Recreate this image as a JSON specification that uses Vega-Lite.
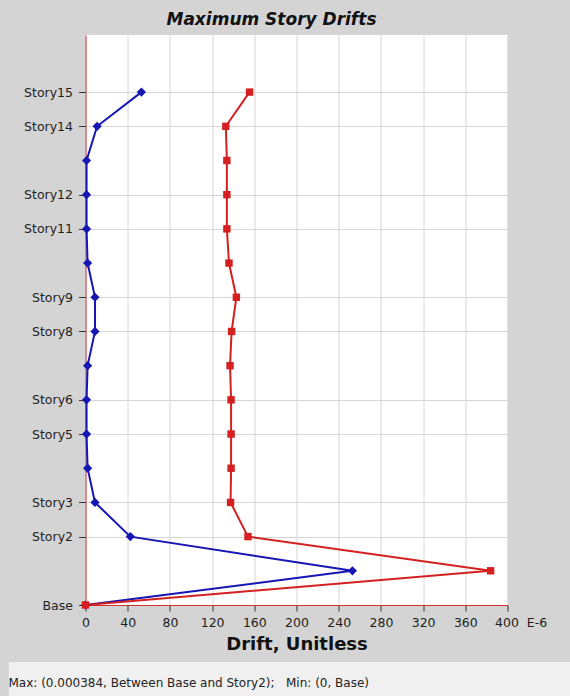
{
  "$schema": "https://vega.github.io/schema/vega-lite/v6.json",
  "background": "#d4d4d4",
  "padding": {"left": 7.5, "top": 11, "right": 0, "bottom": 0},
  "bounds": "flush",
  "center": true,
  "spacing": 57,
  "config": {
    "font": "DejaVu Sans",
    "view": {"stroke": null}
  },
  "vconcat": [
    {
      "title": {
        "text": "Maximum Story Drifts",
        "font": "DejaVu Sans",
        "fontSize": 17,
        "fontWeight": "bold",
        "fontStyle": "italic",
        "color": "#111111",
        "anchor": "middle",
        "frame": "group",
        "dx": -25,
        "offset": 6
      },
      "width": 422,
      "height": 570,
      "view": {"fill": "white", "stroke": null},
      "data": {
        "values": [
          {"series": "X", "story": 0, "drift": 0},
          {"series": "X", "story": 1, "drift": 253},
          {"series": "X", "story": 2, "drift": 42.5},
          {"series": "X", "story": 3, "drift": 9},
          {"series": "X", "story": 4, "drift": 2},
          {"series": "X", "story": 5, "drift": 1},
          {"series": "X", "story": 6, "drift": 1},
          {"series": "X", "story": 7, "drift": 2},
          {"series": "X", "story": 8, "drift": 9},
          {"series": "X", "story": 9, "drift": 9},
          {"series": "X", "story": 10, "drift": 2},
          {"series": "X", "story": 11, "drift": 1},
          {"series": "X", "story": 12, "drift": 1},
          {"series": "X", "story": 13, "drift": 1},
          {"series": "X", "story": 14, "drift": 11},
          {"series": "X", "story": 15, "drift": 53},
          {"series": "Y", "story": 0, "drift": 0},
          {"series": "Y", "story": 1, "drift": 384},
          {"series": "Y", "story": 2, "drift": 154},
          {"series": "Y", "story": 3, "drift": 137.5},
          {"series": "Y", "story": 4, "drift": 138},
          {"series": "Y", "story": 5, "drift": 138},
          {"series": "Y", "story": 6, "drift": 138},
          {"series": "Y", "story": 7, "drift": 137},
          {"series": "Y", "story": 8, "drift": 138.5},
          {"series": "Y", "story": 9, "drift": 143},
          {"series": "Y", "story": 10, "drift": 136},
          {"series": "Y", "story": 11, "drift": 134},
          {"series": "Y", "story": 12, "drift": 134},
          {"series": "Y", "story": 13, "drift": 134},
          {"series": "Y", "story": 14, "drift": 133},
          {"series": "Y", "story": 15, "drift": 155.5}
        ]
      },
      "encoding": {
        "x": {
          "field": "drift",
          "type": "quantitative",
          "scale": {"domain": [0, 400], "nice": false},
          "axis": {
            "values": [0, 40, 80, 120, 160, 200, 240, 280, 320, 360, 400],
            "labelExpr": "datum.value == 400 ? '400\u00a0\u00a0E-6' : datum.label",
            "labelAlign": {"condition": {"test": "datum.value == 400", "value": "left"}, "value": "center"},
            "labelOffset": {"condition": {"test": "datum.value == 400", "value": -13}, "value": 0},
            "labelFlush": false,
            "labelOverlap": false,
            "labelFont": "DejaVu Sans",
            "labelFontSize": 12.5,
            "labelColor": "#1e1e1e",
            "labelPadding": 5,
            "tickSize": 6,
            "tickColor": "#333333",
            "domainColor": "#d03030",
            "domainWidth": 1,
            "grid": true,
            "gridColor": "#d6d6d6",
            "title": "Drift, Unitless",
            "titleFont": "DejaVu Sans",
            "titleFontSize": 18,
            "titleFontWeight": "bold",
            "titleColor": "#111111",
            "titlePadding": 7
          }
        },
        "y": {
          "field": "story",
          "type": "quantitative",
          "scale": {"domain": [0, 16.67], "nice": false},
          "axis": {
            "values": [0, 2, 3, 5, 6, 8, 9, 11, 12, 14, 15],
            "labelExpr": "datum.value == 0 ? 'Base' : 'Story' + datum.value",
            "labelOverlap": false,
            "labelFont": "DejaVu Sans",
            "labelFontSize": 12.5,
            "labelColor": "#1e1e1e",
            "labelPadding": 6,
            "tickSize": 7,
            "tickColor": "#333333",
            "domainColor": "#d03030",
            "domainWidth": 1,
            "grid": true,
            "gridColor": "#d6d6d6",
            "title": null
          }
        },
        "color": {
          "field": "series",
          "type": "nominal",
          "scale": {"domain": ["X", "Y"], "range": ["#1616b4", "#d42020"]},
          "legend": null
        },
        "order": {"field": "story", "type": "quantitative"}
      },
      "layer": [
        {"mark": {"type": "line", "strokeWidth": 2}},
        {
          "mark": {"type": "point", "filled": true, "opacity": 1},
          "encoding": {
            "shape": {
              "field": "series",
              "type": "nominal",
              "scale": {"domain": ["X", "Y"], "range": ["diamond", "square"]},
              "legend": null
            },
            "size": {
              "field": "series",
              "type": "nominal",
              "scale": {"domain": ["X", "Y"], "range": [85, 55]},
              "legend": null
            }
          }
        }
      ]
    },
    {
      "width": 576,
      "height": 34,
      "view": {"fill": "#f0f0f0", "stroke": "#b4b4b4"},
      "data": {"values": [{"msg": "Max: (0.000384, Between Base and Story2);   Min: (0, Base)"}]},
      "mark": {"type": "rect", "color": "#f0f0f0"},
      "title": {
        "text": "Max: (0.000384, Between Base and Story2); \u00a0 Min: (0, Base)",
        "orient": "bottom",
        "anchor": "start",
        "frame": "group",
        "offset": -18,
        "dx": 0,
        "font": "DejaVu Sans",
        "fontSize": 12,
        "fontWeight": "normal",
        "color": "#222222"
      }
    }
  ]
}
